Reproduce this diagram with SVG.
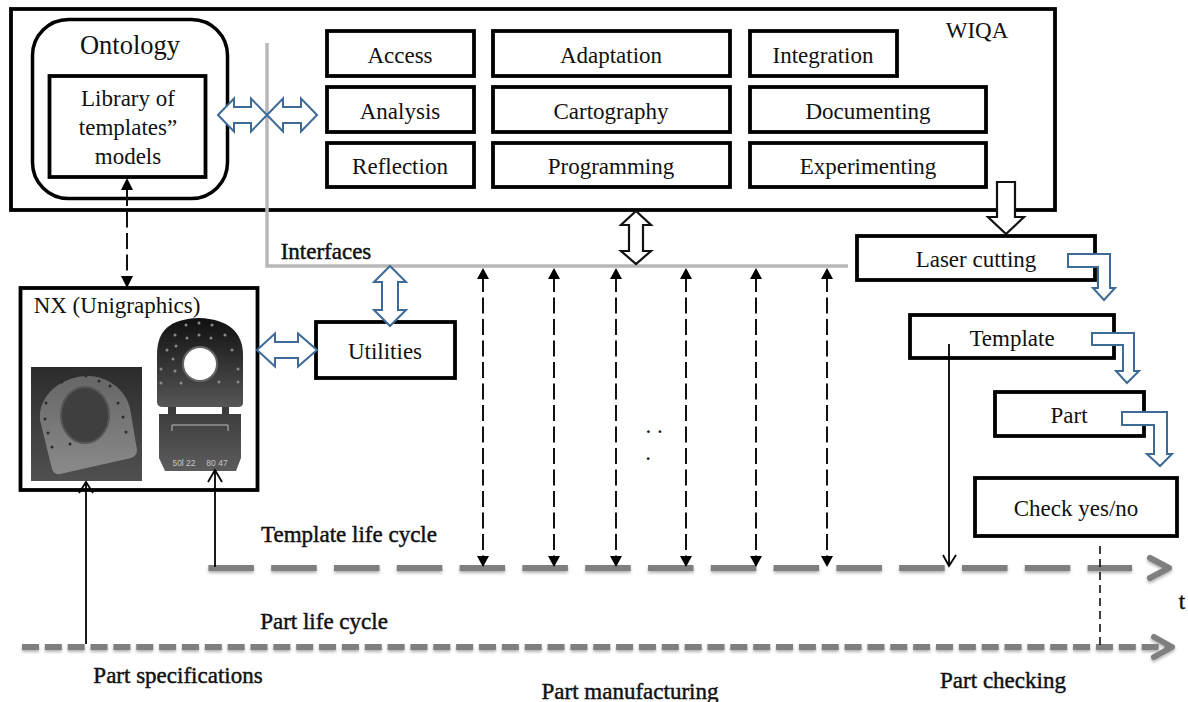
<svg xmlns="http://www.w3.org/2000/svg" width="1188" height="702" viewBox="0 0 1188 702">
<style>
text{font-family:"Liberation Serif","Times New Roman",serif;fill:#111;text-anchor:middle}
.t{font-size:23px}
.b{font-size:23px;stroke:#111;stroke-width:.45}
.box{fill:#fff;stroke:#000;stroke-width:3.8}
.hb{fill:#fff;stroke:#3d6a96;stroke-width:2}
.hk{fill:#fff;stroke:#111;stroke-width:2.2}
.dash{stroke:#111;stroke-width:2;stroke-dasharray:16 5.500;fill:none}
.ln{stroke:#000;stroke-width:1.800;fill:none}
.tl{stroke:#7f7f7f;fill:none;stroke-width:6}
.head{stroke:#7f7f7f;fill:none;stroke-width:6;stroke-linecap:round;stroke-linejoin:round}
.gr{stroke:#b8b8b8;stroke-width:3.500;fill:none}
.num{font-family:"Liberation Sans",Arial,sans-serif;font-size:8.500px;fill:#c4c4c4;stroke:none}
</style>
<defs>
<filter id="sh" x="-5%" y="-100%" width="110%" height="300%"><feDropShadow dx="0" dy="2" stdDeviation="1.500" flood-color="#000" flood-opacity=".3"/></filter>
<linearGradient id="g1" x1="0" y1="0" x2="0" y2="1"><stop offset="0" stop-color="#2c2c2c"/><stop offset="1" stop-color="#505050"/></linearGradient>
<linearGradient id="g2" x1="0" y1="0" x2="0" y2="1"><stop offset="0" stop-color="#101010"/><stop offset="1" stop-color="#565656"/></linearGradient>
<linearGradient id="g3" x1="0" y1="0" x2="0" y2="1"><stop offset="0" stop-color="#3a3a3a"/><stop offset="1" stop-color="#5c5c5c"/></linearGradient>
<linearGradient id="g4" x1="0" y1="0" x2="0" y2="1"><stop offset="0" stop-color="#666"/><stop offset="1" stop-color="#8a8a8a"/></linearGradient>
</defs>

<g id="wiqa">
<rect class="box" x="11" y="9" width="1044" height="201"/>
<text class="t" x="977" y="38">WIQA</text>
</g>
<g id="ontology">
<rect x="32.500" y="19.500" width="195" height="179" rx="36" fill="#fff" stroke="#000" stroke-width="3.500"/>
<text x="130" y="54" style="font-size:26.500px">Ontology</text>
</g>
<g id="library">
<rect class="box" x="49.500" y="76" width="156" height="101"/>
<text class="t" x="128" y="106">Library of</text>
<text class="t" x="128" y="135">templates”</text>
<text class="t" x="128" y="164">models</text>
</g>
<g id="access"><rect class="box" x="327" y="31" width="147" height="45"/><text class="t" x="400" y="63">Access</text></g>
<g id="adaptation"><rect class="box" x="493" y="31" width="237" height="45"/><text class="t" x="611" y="63">Adaptation</text></g>
<g id="integration"><rect class="box" x="750" y="31" width="147" height="45"/><text class="t" x="823" y="63">Integration</text></g>
<g id="analysis"><rect class="box" x="327" y="87" width="147" height="45"/><text class="t" x="400" y="119">Analysis</text></g>
<g id="cartography"><rect class="box" x="493" y="87" width="237" height="45"/><text class="t" x="611" y="119">Cartography</text></g>
<g id="documenting"><rect class="box" x="750" y="87" width="236" height="45"/><text class="t" x="868" y="119">Documenting</text></g>
<g id="reflection"><rect class="box" x="327" y="143" width="147" height="44"/><text class="t" x="400" y="174">Reflection</text></g>
<g id="programming"><rect class="box" x="493" y="143" width="237" height="44"/><text class="t" x="611" y="174">Programming</text></g>
<g id="experimenting"><rect class="box" x="750" y="143" width="236" height="44"/><text class="t" x="868" y="174">Experimenting</text></g>

<g id="laser"><rect class="box" x="857" y="236" width="238" height="44"/><text class="t" x="976" y="267">Laser cutting</text></g>
<g id="template"><rect class="box" x="910" y="315" width="204" height="43"/><text class="t" x="1012" y="346">Template</text></g>
<g id="part"><rect class="box" x="995" y="392" width="149" height="44"/><text class="t" x="1069" y="423">Part</text></g>
<g id="check"><rect class="box" x="975" y="478" width="202" height="58"/><text class="t" x="1076" y="516">Check yes/no</text></g>
<g id="utilities"><rect class="box" x="316" y="322" width="139" height="56"/><text class="t" x="385" y="359">Utilities</text></g>

<g id="nx">
<rect class="box" x="20.500" y="288" width="237" height="202"/>
<text class="t" x="117" y="313">NX (Unigraphics)</text>
<rect x="31" y="367" width="111" height="114" fill="url(#g1)"/>
<path d="M40 420C38 392 66 375 90 376C116 378 130 398 131 414L137 450Q137 456 131 458L60 474Q54 475 52 469Z" fill="url(#g4)"/>
<ellipse cx="85" cy="415" rx="24" ry="28" fill="#3f3f3f" stroke="#555" stroke-width="2"/>
<g fill="#2c2c2c">
<circle cx="62" cy="382" r="1.500"/><circle cx="73" cy="376" r="1.500"/><circle cx="86" cy="376" r="1.500"/><circle cx="99" cy="381" r="1.500"/><circle cx="110" cy="386" r="1.500"/><circle cx="118" cy="403" r="1.500"/><circle cx="123" cy="417" r="1.500"/><circle cx="126" cy="432" r="1.500"/><circle cx="46" cy="403" r="1.500"/><circle cx="45" cy="419" r="1.500"/><circle cx="48" cy="433" r="1.500"/><circle cx="52" cy="447" r="1.500"/><circle cx="70" cy="444" r="1.500"/>
</g>
<path d="M157 360V355C157 330 170 319 199 318C228 319 243 332 243 355V403Q243 407 238 407H163Q157 407 157 402Z" fill="url(#g2)"/>
<circle cx="200" cy="364" r="17" fill="#fff" stroke="#666" stroke-width="2"/>
<g fill="#8a8a8a">
<circle cx="186" cy="325" r="1.500"/><circle cx="199" cy="323" r="1.500"/><circle cx="212" cy="325" r="1.500"/><circle cx="175" cy="335" r="1.500"/><circle cx="187" cy="338" r="1.500"/><circle cx="199" cy="335" r="1.500"/><circle cx="211" cy="338" r="1.500"/><circle cx="225" cy="335" r="1.500"/><circle cx="167" cy="350" r="1.500"/><circle cx="176" cy="346" r="1.500"/><circle cx="173" cy="359" r="1.500"/><circle cx="232" cy="350" r="1.500"/><circle cx="238" cy="369" r="1.500"/><circle cx="161" cy="369" r="1.500"/><circle cx="175" cy="371" r="1.500"/><circle cx="161" cy="383" r="1.500"/><circle cx="181" cy="383" r="1.500"/><circle cx="219" cy="382" r="1.500"/><circle cx="238" cy="382" r="1.500"/>
</g>
<path d="M159 414H168V407H176V414H222V407H229V414H241V458L236 471H165L159 458Z" fill="url(#g3)"/>
<path d="M172 431V425H228V431" stroke="#bbb" stroke-width="1" fill="none"/>
<text class="num" x="184" y="466">50l 22</text>
<text class="num" x="217" y="466">80 47</text>
</g>

<g id="connectors">
<path class="gr" d="M267 43V266H848"/>

<path class="dash" d="M127 190V275"/>
<path d="M121 190L127 178L133 190Z" fill="#000"/>
<path d="M121 276L127 288L133 276Z" fill="#000"/>

<path class="hb" d="M218 115L234 98.500V107H251V98.500L267 115L251 131.500V123H234V131.500Z"/>
<path class="hb" d="M267 115L283 98.500V107H301V98.500L317 115L301 131.500V123H283V131.500Z"/>
<path class="hb" d="M257 350L275 333.500V342H298V333.500L317 350L298 366.500V358H275V366.500Z"/>
<path class="hb" d="M390 266L406 282H398V310H406L390 326L374 310H382V282H374Z"/>
<path class="hk" d="M636 211L651 225H643V251H651L636 264L621 251H629V225H621Z"/>
<path class="hk" d="M997 182H1015V217H1024L1006 234L988 217H997Z"/>

<path class="hb" d="M1068 254H1110V288H1115L1104 300L1093 288H1098V267H1068Z"/>
<path class="hb" d="M1092 333H1134V371H1139L1127 383L1116 371H1123V345H1092Z"/>
<path class="hb" d="M1122 412H1167V454H1172L1160 466L1147 454H1154V425H1122Z"/>

<g filter="url(#sh)">
<path class="tl" d="M208.400 568H1132" stroke-dasharray="45.500 17.300"/>
<path class="head" d="M1150 558L1169 568L1150 578"/>
<path class="tl" d="M22 647H1168" stroke-dasharray="17 5.850"/>
<path class="head" d="M1154 637L1172 647L1154 657"/>
</g>

<g>
<path class="dash" d="M483 276V556"/><path class="dash" d="M554 276V556"/><path class="dash" d="M616 276V556"/><path class="dash" d="M686 276V556"/><path class="dash" d="M756 276V556"/><path class="dash" d="M827 276V556"/>
<path d="M477 279L483 268L489 279ZM548 279L554 268L560 279ZM610 279L616 268L622 279ZM680 279L686 268L692 279ZM750 279L756 268L762 279ZM821 279L827 268L833 279Z" fill="#000"/>
<path d="M477 556L483 567L489 556ZM548 556L554 567L560 556ZM610 556L616 567L622 556ZM680 556L686 567L692 556ZM750 556L756 567L762 556ZM821 556L827 567L833 556Z" fill="#000"/>
</g>

<path class="ln" d="M86 644V482"/><path class="ln" d="M79 493L86 482L93 493"/>
<path class="ln" d="M215 567V470"/><path class="ln" d="M208 482L215 470L222 482"/>
<path class="ln" d="M949 344V566"/><path class="ln" d="M943 555L949 566L956 555"/>
<path d="M1100 546V646" stroke="#000" stroke-width="1.500" stroke-dasharray="8 5" fill="none"/>
</g>

<text class="b" x="326" y="259">Interfaces</text>
<text class="b" x="349" y="542">Template life cycle</text>
<text class="b" x="324" y="629">Part life cycle</text>
<text class="b" x="178" y="683">Part specifications</text>
<text class="b" x="630" y="699">Part manufacturing</text>
<text class="b" x="1003" y="688">Part checking</text>
<text class="b" x="1182" y="609">t</text>
<text class="t" x="654" y="433">. .</text>
<text class="t" x="648" y="460">.</text>
</svg>
